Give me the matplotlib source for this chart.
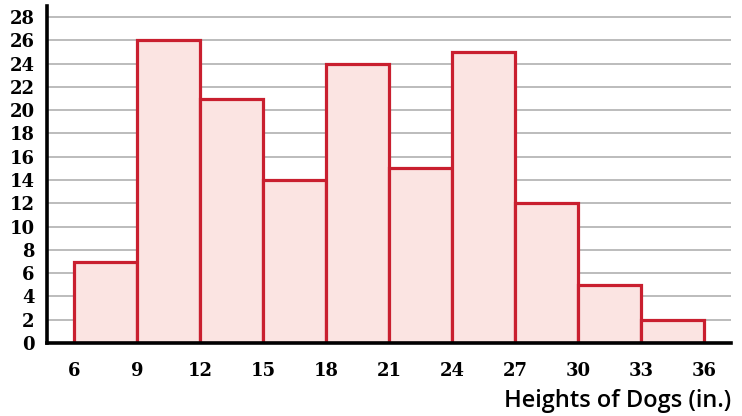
import matplotlib
matplotlib.use("Agg")
import matplotlib.pyplot as plt

bin_edges = [6, 9, 12, 15, 18, 21, 24, 27, 30, 33, 36]
counts = [7, 26, 21, 14, 24, 15, 25, 12, 5, 2]
y_ticks = list(range(0, 29, 2))
x_label = "Heights of Dogs (in.)"

fig = plt.figure(figsize=(7.42, 4.16), dpi=100)
ax = fig.add_axes([47 / 742, 73 / 416, (731 - 47) / 742, (343 - 6) / 416])

lefts = bin_edges[:-1]
widths = [b - a for a, b in zip(bin_edges[:-1], bin_edges[1:])]
ax.bar(lefts, counts, width=widths, align="edge", facecolor="#fbe4e2",
       edgecolor="#c91f2f", linewidth=2.3, zorder=3)

ax.set_xlim(6 - 27 / 21, 36 + 27 / 21)
ax.set_ylim(0, 28.95)
ax.set_yticks(y_ticks)
ax.set_xticks(bin_edges)
ax.grid(axis="y", color="#b0b0b0", linewidth=1.2, zorder=0)
ax.tick_params(length=0)
ax.tick_params(axis="y", pad=9)
ax.tick_params(axis="x", pad=14)
for lbl in ax.get_xticklabels() + ax.get_yticklabels():
    lbl.set_fontfamily("DejaVu Serif")
    lbl.set_fontweight("bold")
    lbl.set_fontsize(13)

for side in ("top", "right"):
    ax.spines[side].set_visible(False)
for side in ("left", "bottom"):
    ax.spines[side].set_linewidth(2.6)
    ax.spines[side].set_color("black")
    ax.spines[side].set_zorder(4)

fig.text(731 / 742, 1 - 401 / 416, x_label, ha="right", va="center",
         fontsize=17, family="Open Sans", fontweight="semibold")

fig.savefig("out.png", dpi=100)
